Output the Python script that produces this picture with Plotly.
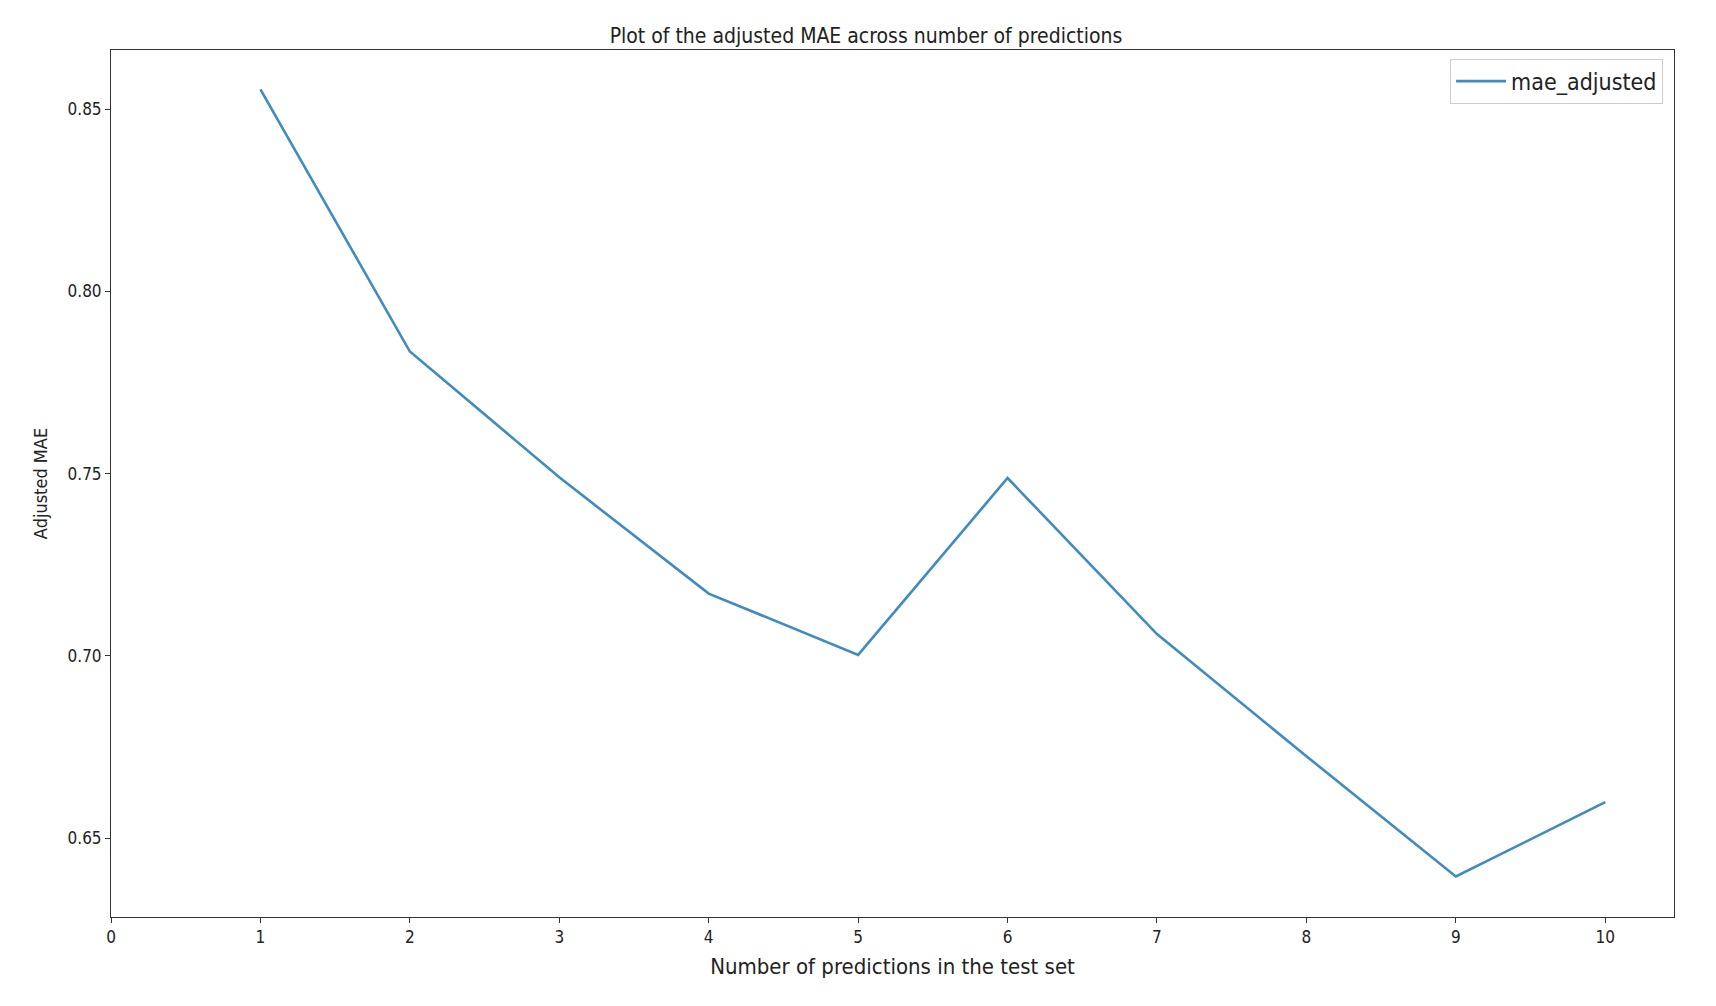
import plotly.graph_objects as go

x_vals = [1, 2, 3, 4, 5, 6, 7, 8, 9, 10]
mae_adjusted = [0.8554, 0.7835, 0.7490, 0.7171, 0.7003, 0.7488, 0.7060, 0.6725, 0.6395, 0.6599]

fig = go.Figure(go.Scatter(x=x_vals, y=mae_adjusted, mode="lines", name="mae_adjusted",
                           line=dict(color="#1f77b4", width=2.6), opacity=0.85))
ax = dict(showgrid=False, zeroline=False, showline=True, mirror=True, linecolor="#333",
          linewidth=1, ticks="outside", ticklen=5, tickcolor="#333",
          tickfont=dict(family="DejaVu Sans Condensed, DejaVu Sans", size=17, color="#222"))
fig.update_layout(
    width=1716, height=1006, paper_bgcolor="white", plot_bgcolor="white",
    margin=dict(l=103, r=50, t=42, b=97),
    title=dict(text="Plot of the adjusted MAE across number of predictions", x=0.5, xanchor="center",
               y=0.98, font=dict(family="DejaVu Sans Condensed, DejaVu Sans", size=21, color="#222")),
    xaxis=dict(ax, range=[0, 10.46], tickvals=list(range(11)),
               title=dict(text="Number of predictions in the test set", standoff=12,
                          font=dict(family="DejaVu Sans Condensed, DejaVu Sans", size=22, color="#222"))),
    yaxis=dict(ax, range=[0.6284, 0.8662], tickvals=[0.65, 0.70, 0.75, 0.80, 0.85], tickformat=".2f",
               title=dict(text="Adjusted MAE",
                          font=dict(family="DejaVu Sans Condensed, DejaVu Sans", size=18, color="#222"))),
    showlegend=True,
    legend=dict(x=0.993, y=0.99, xanchor="right", yanchor="top", bordercolor="#ccc", borderwidth=1,
                bgcolor="white", itemwidth=50,
                font=dict(family="DejaVu Sans Condensed, DejaVu Sans", size=23, color="#222")),
)
fig.write_html("out.html")
